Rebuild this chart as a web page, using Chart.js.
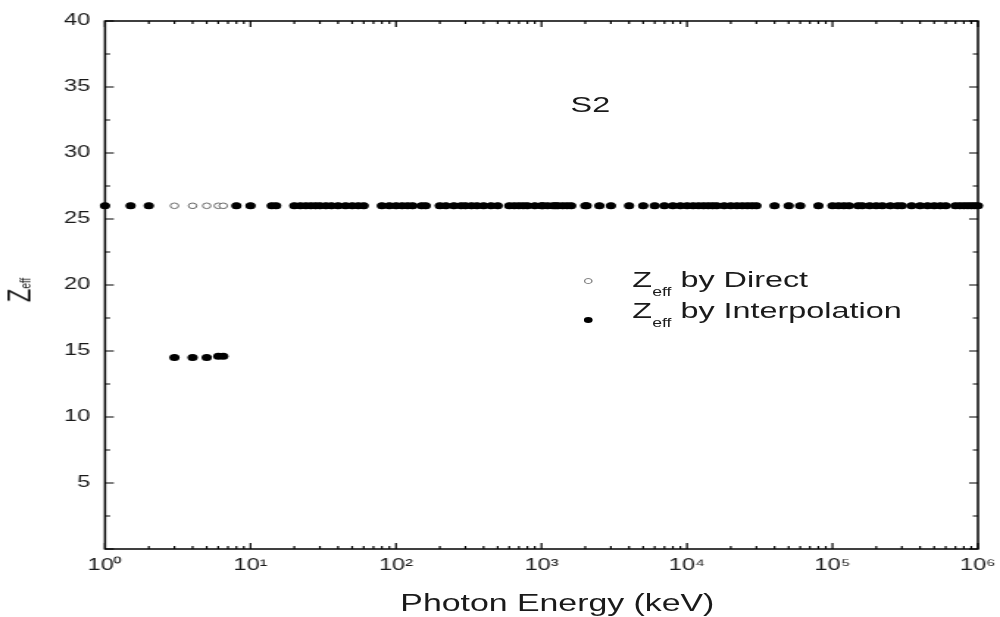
<!DOCTYPE html>
<html><head><meta charset="utf-8">
<script src="https://cdn.jsdelivr.net/npm/chart.js@4/dist/chart.umd.min.js"></script>
<style>
html,body{margin:0;padding:0;background:#fff;overflow:hidden;width:1000px;height:617px}
#wrap{position:absolute;left:0;top:0;width:680px;height:617px;transform:scaleX(1.470588);transform-origin:0 0;font-family:"Liberation Sans",Arial,sans-serif;color:#1a1a1a}
canvas{position:absolute;left:0;top:0}
.t{position:absolute;white-space:nowrap;font-size:22px;line-height:22px}
.sub{font-size:12px;position:relative;top:9px}
.mk{position:absolute;border-radius:50%}
</style></head><body>
<div id="wrap">
<canvas id="c" width="680" height="617"></canvas>
<div class="t" style="left:388px;top:94px">S2</div>
<div class="mk" style="left:397px;top:278px;width:4px;height:4px;border:1px solid #888;background:#fff"></div>
<div class="t" style="left:430px;top:269px">Z<span class="sub">eff</span> by Direct</div>
<div class="mk" style="left:397px;top:317px;width:6px;height:6px;background:#000"></div>
<div class="t" style="left:430px;top:300px">Z<span class="sub">eff</span> by Interpolation</div>
<div class="t" style="left:379px;top:592px;font-size:23px;line-height:23px;transform:translateX(-50%)">Photon Energy (keV)</div>
<div class="t" style="left:16px;top:290px;transform:translate(-50%,-50%) rotate(-90deg)">Z<span style="font-size:10px">eff</span></div>
</div>
<script>
// Photon energies (keV)
const energies = [
  1, 1.5, 2, 3, 4, 5, 6, 6.5,
  8, 10, 14, 15,
  20, 22, 24, 26, 28, 30, 33, 36, 40, 45, 50, 55, 60,
  80, 90, 100, 110, 120, 130, 150, 160,
  200, 220, 250, 280, 300, 330, 360, 400, 450, 500,
  600, 650, 700, 750, 800, 900, 1000, 1022, 1100, 1200, 1250, 1300, 1400, 1500, 1600,
  2000, 2044, 2500, 3000, 4000, 5000, 6000,
  7000, 8000, 9000, 10000, 11000, 12000, 13000, 14000, 15000, 16000, 18000, 20000, 22000, 24000, 26000, 28000, 30000,
  40000, 50000, 60000, 80000,
  100000, 110000, 120000, 130000, 150000, 160000, 180000,
  200000, 220000, 250000, 280000, 300000, 350000, 400000, 450000, 500000, 550000, 600000,
  700000, 750000, 800000, 850000, 900000, 950000, 1000000
];
// Zeff by Direct
const zDirect = [
  26.0, 26.0, 26.0, 26.0, 26.0, 26.0, 26.0, 26.0,
  26.0, 26.0, 26.0, 26.0,
  26.0, 26.0, 26.0, 26.0, 26.0, 26.0, 26.0, 26.0, 26.0, 26.0, 26.0, 26.0, 26.0,
  26.0, 26.0, 26.0, 26.0, 26.0, 26.0, 26.0, 26.0,
  26.0, 26.0, 26.0, 26.0, 26.0, 26.0, 26.0, 26.0, 26.0, 26.0,
  26.0, 26.0, 26.0, 26.0, 26.0, 26.0, 26.0, 26.0, 26.0, 26.0, 26.0, 26.0, 26.0, 26.0, 26.0,
  26.0, 26.0, 26.0, 26.0, 26.0, 26.0, 26.0,
  26.0, 26.0, 26.0, 26.0, 26.0, 26.0, 26.0, 26.0, 26.0, 26.0, 26.0, 26.0, 26.0, 26.0, 26.0, 26.0, 26.0,
  26.0, 26.0, 26.0, 26.0,
  26.0, 26.0, 26.0, 26.0, 26.0, 26.0, 26.0,
  26.0, 26.0, 26.0, 26.0, 26.0, 26.0, 26.0, 26.0, 26.0, 26.0, 26.0,
  26.0, 26.0, 26.0, 26.0, 26.0, 26.0, 26.0
];
// Zeff by Interpolation
const zInterp = [
  26.0, 26.0, 26.0, 14.5, 14.5, 14.5, 14.6, 14.6,
  26.0, 26.0, 26.0, 26.0,
  26.0, 26.0, 26.0, 26.0, 26.0, 26.0, 26.0, 26.0, 26.0, 26.0, 26.0, 26.0, 26.0,
  26.0, 26.0, 26.0, 26.0, 26.0, 26.0, 26.0, 26.0,
  26.0, 26.0, 26.0, 26.0, 26.0, 26.0, 26.0, 26.0, 26.0, 26.0,
  26.0, 26.0, 26.0, 26.0, 26.0, 26.0, 26.0, 26.0, 26.0, 26.0, 26.0, 26.0, 26.0, 26.0, 26.0,
  26.0, 26.0, 26.0, 26.0, 26.0, 26.0, 26.0,
  26.0, 26.0, 26.0, 26.0, 26.0, 26.0, 26.0, 26.0, 26.0, 26.0, 26.0, 26.0, 26.0, 26.0, 26.0, 26.0, 26.0,
  26.0, 26.0, 26.0, 26.0,
  26.0, 26.0, 26.0, 26.0, 26.0, 26.0, 26.0,
  26.0, 26.0, 26.0, 26.0, 26.0, 26.0, 26.0, 26.0, 26.0, 26.0, 26.0,
  26.0, 26.0, 26.0, 26.0, 26.0, 26.0, 26.0
];
const xTickValues = [1, 10, 100, 1000, 10000, 100000, 1000000];
const xTickLabels = ['10\u2070', '10\u00B9', '10\u00B2', '10\u00B3', '10\u2074', '10\u2075', '10\u2076'];
const yTickValues = [0, 5, 10, 15, 20, 25, 30, 35, 40];
const yTickLabels = ['', '5', '10', '15', '20', '25', '30', '35', '40'];

const FONT = '"Liberation Sans", Arial, sans-serif';

const frameTicks = {
  id: 'frameTicks',
  afterDraw(chart) {
    const {ctx, chartArea: {left, right, top, bottom}, scales: {x, y}} = chart;
    ctx.save();
    ctx.strokeStyle = '#000';
    ctx.lineWidth = 1.5;
    ctx.strokeRect(left, top, right - left, bottom - top);
    ctx.lineWidth = 1.2;
    ctx.beginPath();
    for (let i = 0; i < yTickValues.length; i++) {
      const v = yTickValues[i];
      const p = y.getPixelForValue(v);
      ctx.moveTo(left, p); ctx.lineTo(left + 6, p);
      ctx.moveTo(right, p); ctx.lineTo(right - 6, p);
      if (i < yTickValues.length - 1) {
        const pm = y.getPixelForValue((v + yTickValues[i + 1]) / 2);
        ctx.moveTo(left, pm); ctx.lineTo(left + 3.5, pm);
        ctx.moveTo(right, pm); ctx.lineTo(right - 3.5, pm);
      }
    }
    for (let i = 0; i < xTickValues.length; i++) {
      const v = xTickValues[i];
      const p = x.getPixelForValue(v);
      ctx.moveTo(p, bottom); ctx.lineTo(p, bottom - 6);
      ctx.moveTo(p, top); ctx.lineTo(p, top + 6);
      if (i < xTickValues.length - 1) {
        for (let k = 2; k <= 9; k++) {
          const pm = x.getPixelForValue(v * k);
          ctx.moveTo(pm, bottom); ctx.lineTo(pm, bottom - 3);
          ctx.moveTo(pm, top); ctx.lineTo(pm, top + 3);
        }
      }
    }
    ctx.stroke();
    ctx.restore();
  }
};

new Chart(document.getElementById('c'), {
  type: 'scatter',
  data: {
    datasets: [
      {
        label: 'Zeff by Interpolation',
        data: energies.map((e, i) => ({x: e, y: zInterp[i]})),
        pointRadius: 3.5, pointBackgroundColor: '#000', pointBorderWidth: 0,
        order: 0, clip: false
      },
      {
        label: 'Zeff by Direct',
        data: energies.map((e, i) => ({x: e, y: zDirect[i]})),
        pointRadius: 2.8, pointBackgroundColor: '#fff', pointBorderColor: '#6a6a6a', pointBorderWidth: 1,
        order: 1, clip: false
      }
    ]
  },
  options: {
    responsive: false, animation: false, devicePixelRatio: 1, events: [],
    layout: {padding: {top: 21, right: 15, left: 0, bottom: 0}},
    plugins: {legend: {display: false}, tooltip: {enabled: false}},
    scales: {
      x: {
        type: 'logarithmic', min: 1, max: 1000000,
        grid: {display: false, drawTicks: false}, border: {display: false},
        afterBuildTicks(s) { s.ticks = xTickValues.map(v => ({value: v})); },
        afterFit(s) { s.height = 68; s.paddingRight = 0; s.paddingLeft = 0; },
        ticks: {
          autoSkip: false, maxRotation: 0, minRotation: 0, padding: 7, color: '#1a1a1a',
          font: {family: FONT, size: 16},
          callback: (v, i) => xTickLabels[i]
        }
      },
      y: {
        type: 'linear', min: 0, max: 40,
        grid: {display: false, drawTicks: false}, border: {display: false},
        afterBuildTicks(s) { s.ticks = yTickValues.map(v => ({value: v})); },
        afterFit(s) { s.width = 71.4; s.paddingTop = 0; s.paddingBottom = 0; },
        ticks: {
          padding: 10, color: '#1a1a1a',
          font: {family: FONT, size: 16},
          callback: (v, i) => yTickLabels[i]
        }
      }
    }
  },
  plugins: [frameTicks]
});
</script>
</body></html>
